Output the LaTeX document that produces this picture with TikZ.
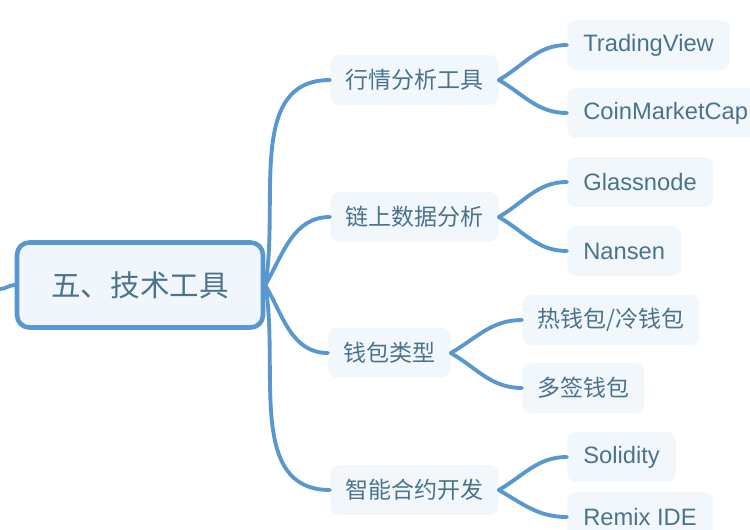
\documentclass[tikz,border=0pt]{standalone}
\usepackage{fontspec}
\setmainfont{Liberation Sans}
\newfontfamily\cjk{Noto Sans CJK SC}
\definecolor{mapblue}{RGB}{88,152,206}
\definecolor{maptext}{RGB}{74,116,140}
\definecolor{rootfill}{RGB}{240,246,252}
\definecolor{boxfill}{RGB}{242,247,251}
\usetikzlibrary{positioning}

\begin{document}
\begin{tikzpicture}[x=0.02cm, y=-0.02cm,
  rootbox/.style={draw=mapblue, line width=2.6pt, rounded corners=7pt, fill=rootfill,
    minimum width=4.92cm, minimum height=1.7cm, text=maptext,
    font=\cjk\fontsize{16.8}{20}\selectfont},
  catbox/.style={fill=boxfill, rounded corners=5pt, minimum height=1cm, inner xsep=0.3cm,
    anchor=west, text=maptext, font=\cjk\fontsize{13.1}{16}\selectfont},
  leafbox/.style={catbox, inner xsep=0.32cm, font=\fontsize{13.5}{16}\selectfont},
  branch/.style={draw=mapblue, line width=2.2pt, line cap=round},
]
\useasboundingbox (0,0) rectangle (750,530);
\clip (0,0) rectangle (750,530);

% root and categories
\node[rootbox] (root) at (140,285) {五、技术工具};
\node[catbox] (c1) at (330,80) {行情分析工具};
\node[catbox] (c2) at (330,217) {链上数据分析};
\node[catbox] (c3) at (328,353) {钱包类型};
\node[catbox] (c4) at (330,490) {智能合约开发};

% leaves
\node[leafbox] (l1) at (567,45) {TradingView};
\node[leafbox] (l2) at (567,113) {CoinMarketCap};
\node[leafbox] (l3) at (567,182) {Glassnode};
\node[leafbox] (l4) at (567,251) {Nansen};
\node[catbox] (l5) at (522,320) {热钱包/冷钱包};
\node[catbox] (l6) at (522,388) {多签钱包};
\node[leafbox] (l7) at (567,457) {Solidity};
\node[leafbox] (l8) at (567,517) {Remix IDE};

\coordinate (lft) at (0,289);
\draw[branch] (lft) to[out=0, in=180] (root.west);

\draw[branch] (root.east) to[out=80, in=180] (c1.west);
\draw[branch] (root.east) to[out=60, in=180] (c2.west);
\draw[branch] (root.east) to[out=-60, in=180] (c3.west);
\draw[branch] (root.east) to[out=-80, in=180] (c4.west);

\draw[branch] (c1.east) to[out=30, in=180] (l1.west);
\draw[branch] (c1.east) to[out=-30, in=180] (l2.west);
\draw[branch] (c2.east) to[out=30, in=180] (l3.west);
\draw[branch] (c2.east) to[out=-30, in=180] (l4.west);
\draw[branch] (c3.east) to[out=30, in=180] (l5.west);
\draw[branch] (c3.east) to[out=-30, in=180] (l6.west);
\draw[branch] (c4.east) to[out=30, in=180] (l7.west);
\draw[branch] (c4.east) to[out=-30, in=180] (l8.west);
\end{tikzpicture}
\end{document}
